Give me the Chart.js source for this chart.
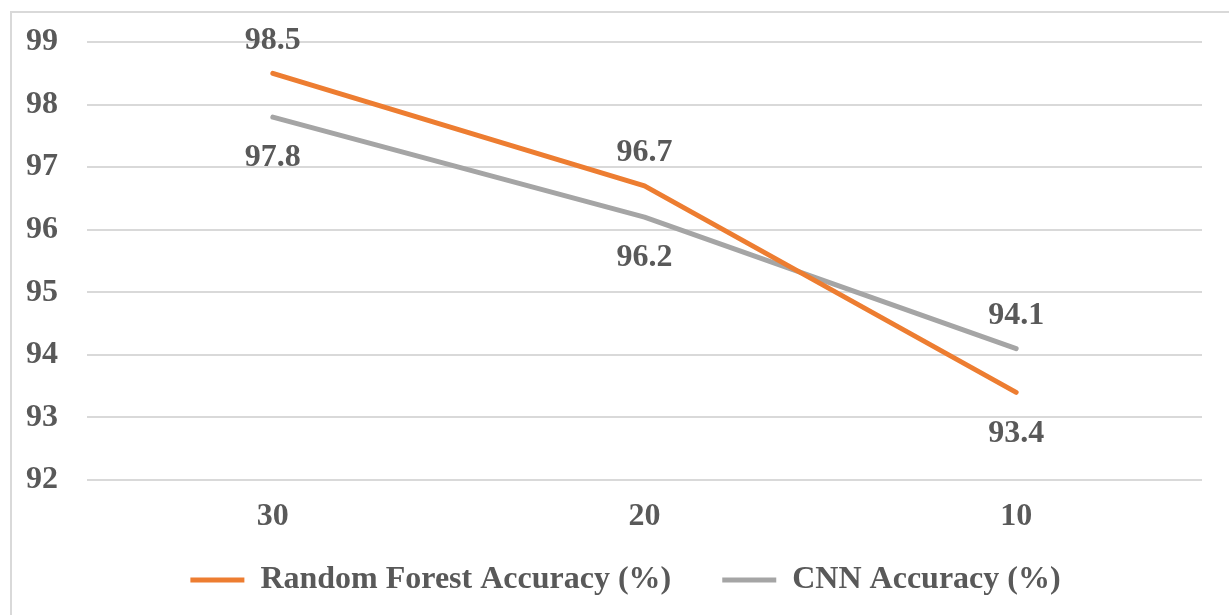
<!DOCTYPE html>
<html><head><meta charset="utf-8">
<script src="https://cdn.jsdelivr.net/npm/chart.js@4/dist/chart.umd.min.js"></script>
<style>
html,body{margin:0;padding:0;background:#fff;overflow:hidden;}
#frame{position:absolute;left:10px;top:11px;width:1260px;height:660px;border-left:2px solid #d9d9d9;border-top:2px solid #d9d9d9;box-sizing:border-box;}
#wrap{position:absolute;left:0;top:0;width:1229px;height:615px;}
</style></head>
<body>
<div id="frame"></div>
<div id="wrap"><canvas id="c" width="1229" height="615"></canvas></div>
<script>
const categories = ['30', '20', '10'];
const rfAccuracy = [98.5, 96.7, 93.4];
const cnnAccuracy = [97.8, 96.2, 94.1];
const seriesNames = ['Random Forest Accuracy (%)', 'CNN Accuracy (%)'];
const yMin = 92, yMax = 99;

const FONT = "'Liberation Serif', 'Times New Roman', serif";
const TXT = '#595959';

const labelPlugin = {
  id: 'pointLabels',
  afterDatasetsDraw(chart) {
    const ctx = chart.ctx;
    const ds = chart.data.datasets;
    ctx.save();
    ctx.font = 'bold 32px ' + FONT;
    ctx.fillStyle = TXT;
    ctx.textAlign = 'center';
    ctx.textBaseline = 'middle';
    ds.forEach((d, di) => {
      const meta = chart.getDatasetMeta(di);
      meta.data.forEach((pt, i) => {
        const v = d.data[i];
        const others = ds.filter((_, k) => k !== di).map(o => o.data[i]);
        const isTop = others.every(o => v >= o);
        const y = isTop ? pt.y - 33 : pt.y + 41;
        ctx.fillText(v.toFixed(1), pt.x, y);
      });
    });
    ctx.restore();
  }
};

const legendShift = {
  id: 'legendShift',
  afterLayout(chart) {
    const lg = chart.legend;
    if (lg) { lg.left -= 19; lg.right -= 19; lg.top -= 27; }
  }
};

new Chart(document.getElementById('c'), {
  type: 'line',
  data: {
    labels: categories,
    datasets: [
      { label: seriesNames[0], data: rfAccuracy, borderColor: '#ED7D31', backgroundColor: '#ED7D31', borderWidth: 5, pointRadius: 0, tension: 0, borderCapStyle: 'round', borderJoinStyle: 'round' },
      { label: seriesNames[1], data: cnnAccuracy, borderColor: '#A5A5A5', backgroundColor: '#A5A5A5', borderWidth: 5, pointRadius: 0, tension: 0, borderCapStyle: 'round', borderJoinStyle: 'round' }
    ]
  },
  options: {
    responsive: false,
    animation: false,
    layout: { padding: { top: 42, right: 27, left: 0, bottom: 12 } },
    plugins: {
      tooltip: { enabled: false },
      legend: {
        position: 'bottom',
        fullSize: false,
        maxHeight: 63,
        labels: {
          usePointStyle: true,
          pointStyle: 'line',
          pointStyleWidth: 54,
          padding: 51,
          color: TXT,
          font: { family: FONT, size: 32, weight: 'bold' }
        }
      }
    },
    scales: {
      x: {
        offset: true,
        grid: { display: false, drawTicks: false },
        border: { display: false },
        ticks: { color: TXT, padding: 18, font: { family: FONT, size: 32, weight: 'bold' } },
        afterFit(s) { s.height = 60; }
      },
      y: {
        min: yMin, max: yMax,
        grid: { color: '#d9d9d9', lineWidth: 2, drawTicks: false },
        border: { display: false },
        ticks: { stepSize: 1, color: TXT, padding: 29, font: { family: FONT, size: 32, weight: 'bold' } },
        afterFit(s) { s.width = 87; s.paddingTop = 0; s.paddingBottom = 0; }
      }
    }
  },
  plugins: [labelPlugin, legendShift]
});
</script>
</body></html>
